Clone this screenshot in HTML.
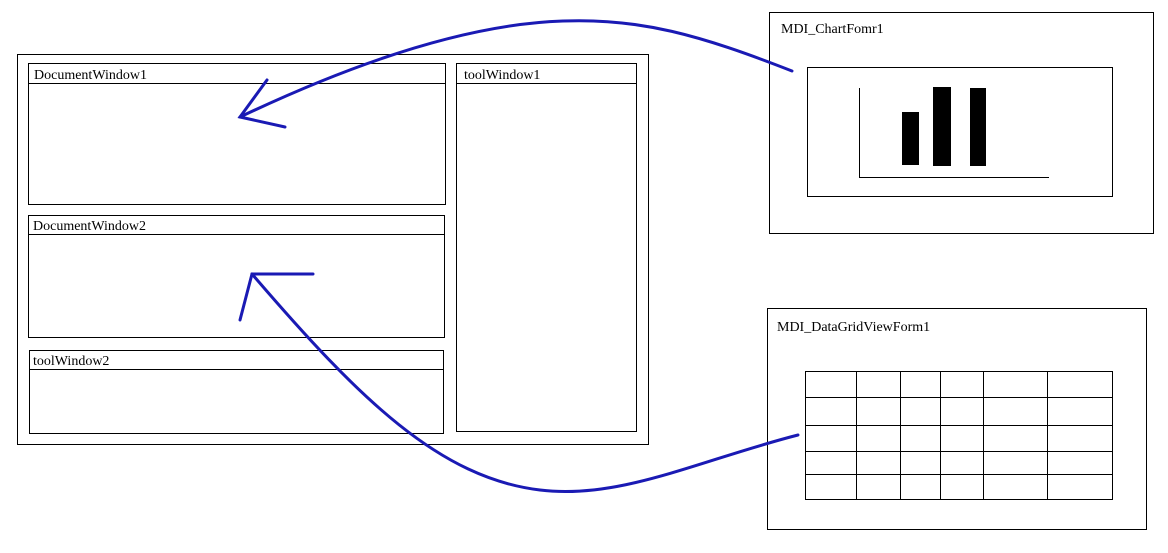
<!DOCTYPE html>
<html><head><style>html,body{margin:0;padding:0;background:#fff}svg{display:block}text{font-family:"Liberation Serif","Noto Serif CJK SC",serif;font-size:14px;fill:#000}</style></head>
<body>
<svg width="1168" height="553" viewBox="0 0 1168 553" xmlns="http://www.w3.org/2000/svg">
<g fill="none" stroke="#000" stroke-width="1">
<rect x="17.5" y="54.5" width="631" height="390"/>
<rect x="28.5" y="63.5" width="417" height="141"/><line x1="28" y1="83.5" x2="446" y2="83.5"/>
<rect x="28.5" y="215.5" width="416" height="122"/><line x1="28" y1="234.5" x2="445" y2="234.5"/>
<rect x="29.5" y="350.5" width="414" height="83"/><line x1="29" y1="369.5" x2="444" y2="369.5"/>
<rect x="456.5" y="63.5" width="180" height="368"/><line x1="456" y1="83.5" x2="637" y2="83.5"/>
<rect x="769.5" y="12.5" width="384" height="221"/>
<rect x="807.5" y="67.5" width="305" height="129"/>
<polyline points="859.5,88 859.5,177.5 1049,177.5"/>
<rect x="767.5" y="308.5" width="379" height="221"/>
<rect x="805.5" y="371.5" width="307" height="128"/>
<line x1="856.5" y1="371" x2="856.5" y2="500"/><line x1="900.5" y1="371" x2="900.5" y2="500"/>
<line x1="940.5" y1="371" x2="940.5" y2="500"/><line x1="983.5" y1="371" x2="983.5" y2="500"/>
<line x1="1047.5" y1="371" x2="1047.5" y2="500"/>
<line x1="805" y1="397.5" x2="1113" y2="397.5"/><line x1="805" y1="425.5" x2="1113" y2="425.5"/>
<line x1="805" y1="451.5" x2="1113" y2="451.5"/><line x1="805" y1="474.5" x2="1113" y2="474.5"/>
</g>
<rect x="902" y="112" width="17" height="53" fill="#000"/>
<rect x="933" y="87" width="18" height="79" fill="#000"/>
<rect x="970" y="88" width="16" height="78" fill="#000"/>
<text x="34" y="79">DocumentWindow1</text>
<text x="33" y="230">DocumentWindow2</text>
<text x="33" y="365">toolWindow2</text>
<text x="464" y="79">toolWindow1</text>
<text x="781" y="33">MDI_ChartFomr1</text>
<text x="777" y="331">MDI_DataGridViewForm1</text>
<g fill="none" stroke="#1a1ab4" stroke-width="3" stroke-linecap="round">
<path d="M792,71 C700,35 640,18 563,21 C470,24 360,60 240,117"/>
<polyline points="267,80 240,117 285,127"/>
<path d="M798,435 C700,460 620,500 540,490 C440,478 360,400 252,274"/>
<polyline points="313,274 252,274 240,320"/>
</g>
</svg>
</body></html>
